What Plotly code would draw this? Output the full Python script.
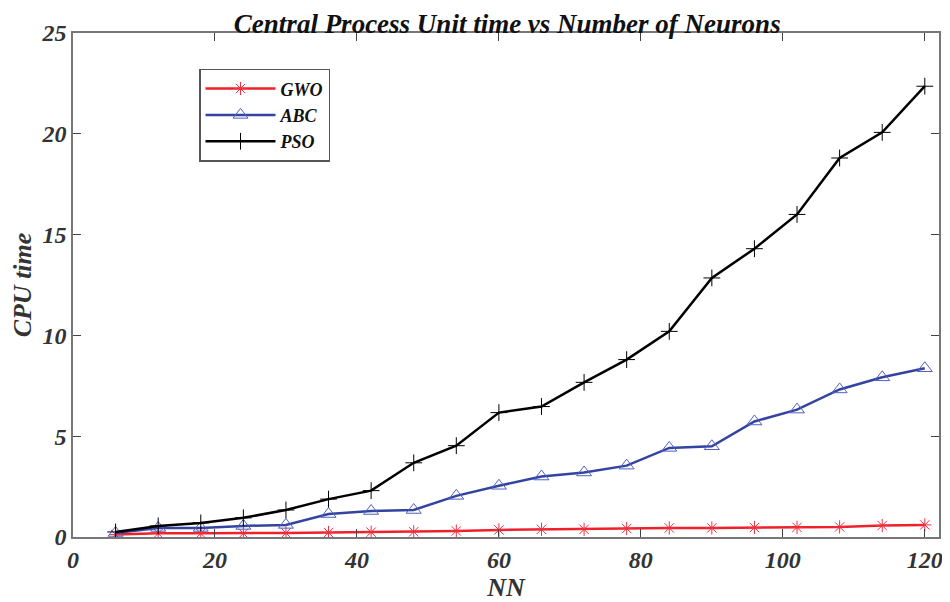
import plotly.graph_objects as go

nn = [6, 12, 18, 24, 30, 36, 42, 48, 54, 60, 66, 72, 78, 84, 90, 96, 102, 108, 114, 120]
gwo = [0.12, 0.18, 0.18, 0.18, 0.2, 0.22, 0.24, 0.26, 0.3, 0.35, 0.38, 0.38, 0.42, 0.45, 0.45, 0.47, 0.48, 0.5, 0.57, 0.6]
abc = [0.2, 0.45, 0.45, 0.55, 0.6, 1.14, 1.29, 1.34, 2.04, 2.54, 3.0, 3.2, 3.54, 4.42, 4.5, 5.73, 6.32, 7.32, 7.92, 8.37]
pso = [0.25, 0.55, 0.7, 0.95, 1.34, 1.88, 2.3, 3.68, 4.53, 6.17, 6.47, 7.67, 8.8, 10.2, 12.85, 14.3, 16.0, 18.8, 20.07, 22.36]

x_ticks = [0, 20, 40, 60, 80, 100, 120]
y_ticks = [0, 5, 10, 15, 20, 25]

FONT = "Liberation Serif"

fig = go.Figure()
fig.add_trace(go.Scatter(
    x=nn, y=gwo, name="<b><i>GWO</i></b>", mode="lines+markers",
    line=dict(color="#f0202a", width=2.5),
    marker=dict(symbol="asterisk-open", size=11, color="#f03040", line=dict(width=1, color="#f03040")),
))
fig.add_trace(go.Scatter(
    x=nn, y=abc, name="<b><i>ABC</i></b>", mode="lines+markers",
    line=dict(color="#3344a0", width=2.5),
    marker=dict(symbol="triangle-up-open", size=13, color="#5060c0", line=dict(width=1, color="#5060c0")),
))
fig.add_trace(go.Scatter(
    x=nn, y=pso, name="<b><i>PSO</i></b>", mode="lines+markers",
    line=dict(color="#000000", width=2.5),
    marker=dict(symbol="cross-thin-open", size=12, color="#000000", line=dict(width=1, color="#000000")),
))

fig.update_layout(
    width=942, height=594,
    margin=dict(l=65, r=11, t=25, b=65, autoexpand=False),
    paper_bgcolor="white", plot_bgcolor="white",
    font=dict(family=FONT, color="#222222"),
    title=dict(text="<b><i>Central Process Unit time vs Number of Neurons</i></b>",
               x=0.53, xanchor="center", y=0.973, yanchor="middle",
               font=dict(size=27, family=FONT, color="#111111")),
    showlegend=True,
    legend=dict(x=0.1455, y=0.929, xanchor="left", yanchor="top",
                bordercolor="#555555", borderwidth=1.5, bgcolor="white",
                font=dict(size=18, family=FONT, color="#111111"),
                tracegroupgap=0, itemwidth=70),
)
fig.update_xaxes(
    range=[0, 122], tickvals=x_ticks, ticktext=[f"<b><i>{v}</i></b>" for v in x_ticks],
    ticks="inside", ticklen=8, tickcolor="#444444", mirror="ticks", automargin=False,
    showline=True, linecolor="#777777", linewidth=1.5, showgrid=False, zeroline=False,
    tickfont=dict(size=24, family=FONT, color="#333333"),
    title=dict(text="<b><i>NN</i></b>", font=dict(size=26, family=FONT, color="#333333"), standoff=2),
)
fig.update_yaxes(
    range=[0, 25], tickvals=y_ticks, ticktext=[f"<b><i>{v}</i></b>" for v in y_ticks],
    ticks="inside", ticklen=8, tickcolor="#444444", mirror="ticks", automargin=False,
    showline=True, linecolor="#777777", linewidth=1.5, showgrid=False, zeroline=False,
    tickfont=dict(size=24, family=FONT, color="#333333"),
    title=dict(text="<b><i>CPU time</i></b>", font=dict(size=26, family=FONT, color="#333333"), standoff=11),
)

fig.write_html("out.html")
